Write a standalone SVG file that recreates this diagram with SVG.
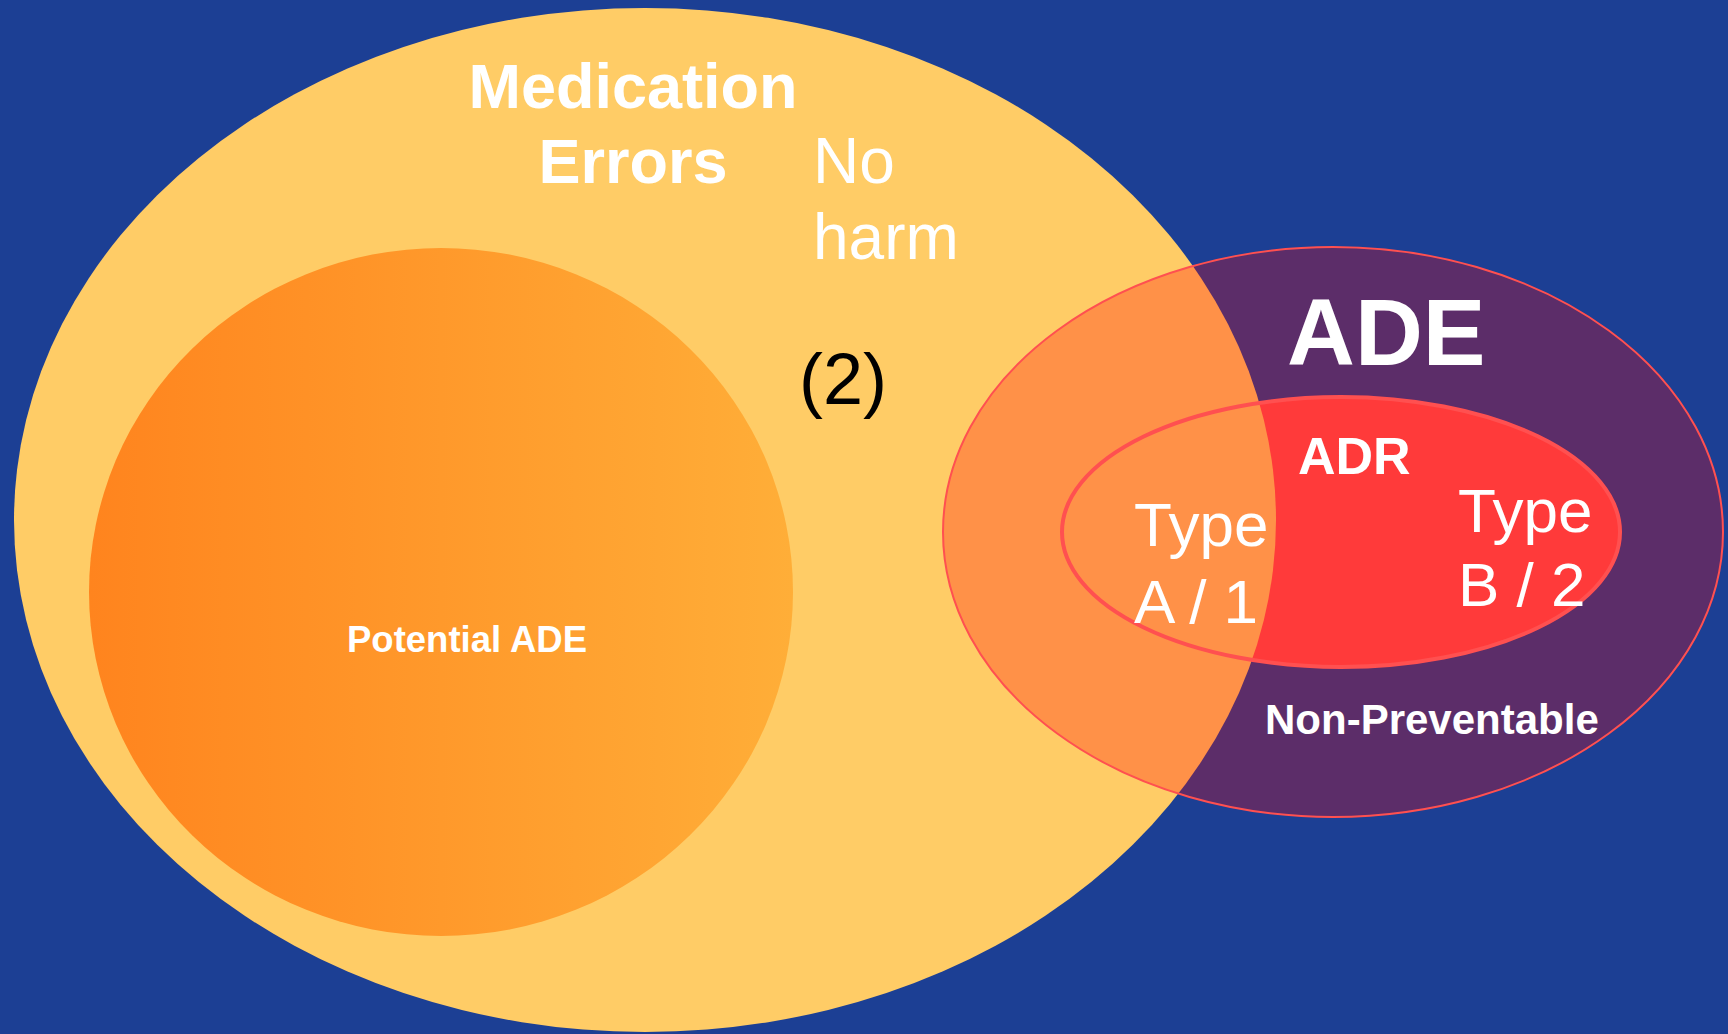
<svg xmlns="http://www.w3.org/2000/svg" width="1728" height="1034" viewBox="0 0 1728 1034">
  <style>
    .w { fill: #FFFFFF; font-family: "Liberation Sans", Arial, sans-serif; }
    .b { font-weight: bold; }
  </style>
  <defs>
    <linearGradient id="potGrad" x1="0" y1="0" x2="1" y2="0">
      <stop offset="0" stop-color="#FF841E"/>
      <stop offset="1" stop-color="#FFAE38"/>
    </linearGradient>
    <clipPath id="adeClip">
      <ellipse cx="1333" cy="532" rx="390" ry="285"/>
    </clipPath>
  </defs>
  <rect x="0" y="0" width="1728" height="1034" fill="#1C3F94"/>

  <g id="medication-errors">
    <ellipse cx="645" cy="520" rx="631" ry="512" fill="#FFCC66"/>
    <text class="w b" x="633" y="108" font-size="63" text-anchor="middle">Medication</text>
    <text class="w b" x="633" y="183" font-size="63" text-anchor="middle">Errors</text>
    <text class="w" x="813" y="183" font-size="64">No</text>
    <text class="w" x="813" y="259" font-size="64">harm</text>
    <text x="843" y="404" font-size="72" fill="#000000" font-family="Liberation Sans, Arial, sans-serif" text-anchor="middle">(2)</text>
  </g>

  <g id="potential-ade">
    <ellipse cx="441" cy="592" rx="352" ry="344" fill="url(#potGrad)"/>
    <text class="w b" x="467" y="652" font-size="36.5" text-anchor="middle">Potential ADE</text>
  </g>

  <g id="ade">
    <ellipse cx="1333" cy="532" rx="390" ry="285" fill="#5C2D69"/>
    <ellipse cx="1341" cy="532" rx="279" ry="135" fill="#FF3A3A"/>
    <ellipse cx="645" cy="520" rx="631" ry="512" fill="#FF9148" clip-path="url(#adeClip)"/>
    <ellipse cx="1333" cy="532" rx="390" ry="285" fill="none" stroke="#FF5050" stroke-width="2"/>
    <text class="w b" x="1287" y="365" font-size="94">ADE</text>
    <text class="w b" x="1265" y="734" font-size="42">Non-Preventable</text>
  </g>

  <g id="adr">
    <ellipse cx="1341" cy="532" rx="279" ry="135" fill="none" stroke="#FF5050" stroke-width="4"/>
    <text class="w b" x="1298" y="474" font-size="52">ADR</text>
    <text class="w" x="1134" y="546" font-size="62">Type</text>
    <text class="w" x="1134" y="623" font-size="62">A / 1</text>
    <text class="w" x="1458" y="532" font-size="62">Type</text>
    <text class="w" x="1458" y="606" font-size="62">B / 2</text>
  </g>

  <g id="connectors"/>
</svg>
